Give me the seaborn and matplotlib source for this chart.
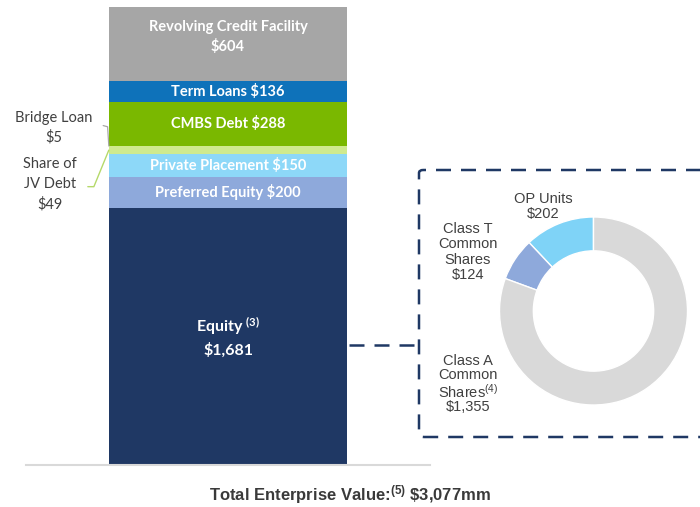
"""
Capitalization chart: stacked bar of the capital structure plus a donut
breaking the equity block into its share classes.
"""

import numpy as np
import pandas as pd
import matplotlib.pyplot as plt
from matplotlib.patches import FancyBboxPatch
from matplotlib.lines import Line2D
import seaborn as sns

# ── DATA ──────────────────────────────────────────────────────────────────────
SEGMENTS = ["Equity", "Preferred Equity", "Private Placement", "Share of JV Debt",
            "Bridge Loan", "CMBS Debt", "Term Loans", "Revolving Credit Facility"]
VALUES   = [1681, 200, 150, 49, 5, 288, 136, 604]

EQUITY_PARTS  = ["OP Units", "Class T Common Shares", "Class A Common Shares"]
EQUITY_VALUES = [202, 124, 1355]

TOTAL_EV = 3077

# ── STYLE ─────────────────────────────────────────────────────────────────────
NAVY  = "#1F3864"
TEXT  = "#404040"
SEG_COLORS = {
    "Equity"                   : NAVY,
    "Preferred Equity"         : "#8EA9DB",
    "Private Placement"        : "#8DD8F8",
    "Share of JV Debt"         : "#CFEA8E",
    "Bridge Loan"              : "#A6A6A6",
    "CMBS Debt"                : "#7AB800",
    "Term Loans"               : "#0E72BA",
    "Revolving Credit Facility": "#A6A6A6",
}
PIE_COLORS = ["#7FD3F7", "#8EA9DB", "#D9D9D9"]

sns.set_theme(style="white")
plt.rcParams.update({
    "font.family"      : ["Lato", "DejaVu Sans"],
    "mathtext.fontset" : "custom",
    "mathtext.default" : "regular",
    "mathtext.rm"      : "Lato",
    "mathtext.bf"      : "Lato:bold",
    "mathtext.it"      : "Lato:italic",
})

W, H = 700, 507
fig = plt.figure(figsize=(W / 100, H / 100), dpi=100, facecolor="white")


def px_box(left, top, right, bottom):
    """pixel box -> figure fraction [l, b, w, h]"""
    return [left / W, (H - bottom) / H, (right - left) / W, (bottom - top) / H]


# ── STACKED BAR ───────────────────────────────────────────────────────────────
ax = fig.add_axes(px_box(26, 7, 430, 465))

df = pd.DataFrame({"segment": SEGMENTS, "value": VALUES})
df["top"] = df["value"].cumsum()
df["mid"] = df["top"] - df["value"] / 2

# overplot cumulative bars, tallest first, to get the stack
for _, row in df.iloc[::-1].iterrows():
    sns.barplot(x=["cap"], y=[row["top"]], color=SEG_COLORS[row["segment"]],
                width=0.59, saturation=1, linewidth=0, ax=ax)

# the source chart squeezes the revolver block at the top
YMAX = 2990
ax.set_xlim(-0.5, 0.5)
ax.set_ylim(0, YMAX)
ax.set_xticks([]); ax.set_yticks([])
ax.set_xlabel(""); ax.set_ylabel("")
for s in ["top", "left", "right"]:
    ax.spines[s].set_visible(False)
ax.spines["bottom"].set_color("#D9D9D9")
ax.spines["bottom"].set_linewidth(1.5)
ax.patch.set_alpha(0)

mid = dict(zip(df["segment"], df["mid"]))
top = dict(zip(df["segment"], df["top"]))
lab = dict(color="white", fontweight="bold", ha="center", va="center")

ax.text(0, mid["Preferred Equity"], "Preferred Equity $200", fontsize=10.5, **lab)
ax.text(0, mid["Private Placement"], "Private Placement $150", fontsize=10.5, **lab)
ax.text(0, mid["CMBS Debt"], "CMBS Debt $288", fontsize=10.5, **lab)
ax.text(0, mid["Term Loans"], "Term Loans $136", fontsize=10.5, **lab)
rev_mid = (top["Term Loans"] + YMAX) / 2
ax.annotate("Revolving Credit Facility\n$604", xy=(0, rev_mid),
            xytext=(0, 5), textcoords="offset points",
            fontsize=10.5, linespacing=1.45, **lab)
ax.text(0, mid["Equity"], r"Equity $^{(3)}$" + "\n" + r"\$1,681",
        fontsize=11.5, linespacing=1.45, **lab)

# small slices labelled outside with leader lines
bar_left = -0.295
ax.text(-0.431, 2200, "Bridge Loan\n$5", fontsize=10.5, color=TEXT,
        ha="center", va="center", linespacing=1.45)
ax.plot([-0.309, -0.298, bar_left], [2216, 2208, mid["Bridge Loan"]],
        color="#A6A6A6", lw=0.9, clip_on=False)
ax.text(-0.441, 1833, "Share of\nJV Debt\n$49", fontsize=10.5, color=TEXT,
        ha="center", va="center", linespacing=1.5)
ax.plot([-0.347, -0.332, bar_left], [1817, 1817, mid["Share of JV Debt"]],
        color="#B5D96A", lw=1.0, clip_on=False)

# ── DASHED CALLOUT ────────────────────────────────────────────────────────────
dash = (0, (6, 4))
fig.add_artist(FancyBboxPatch((419 / W, (H - 437) / H), (730 - 419) / W, (437 - 170) / H,
                              boxstyle="round,pad=0,rounding_size=0.006",
                              transform=fig.transFigure, fill=False,
                              ec=NAVY, lw=1.8, ls=dash))
fig.add_artist(Line2D([349 / W, 419 / W], [(H - 345) / H] * 2,
                      transform=fig.transFigure, color=NAVY, lw=1.8, ls=dash))

# ── DONUT ─────────────────────────────────────────────────────────────────────
pax = fig.add_axes(px_box(499.5, 217, 687.5, 405))
pax.pie(EQUITY_VALUES, colors=PIE_COLORS, startangle=90, counterclock=True,
        radius=1, wedgeprops=dict(width=0.36, edgecolor="white", linewidth=1))
pax.set_xlim(-1, 1); pax.set_ylim(-1, 1)
pax.set_aspect("equal")
pax.axis("off")

pl = dict(fontsize=10.5, color=TEXT, ha="center", va="center",
          family=["Liberation Sans", "DejaVu Sans"], linespacing=1.12)
pax.text(-0.537, 1.11, f"OP Units\n${EQUITY_VALUES[0]}", **pl)
pax.text(-1.335, 0.628, f"Class T\nCommon\nShares\n${EQUITY_VALUES[1]}", **pl)
pax.text(-1.335, -0.78,
         "Class A\nCommon\n" + r"Shares$^{(4)}$" + "\n" + rf"\${EQUITY_VALUES[2]:,}",
         **{**pl, "linespacing": 1.0})

# ── FOOTER ────────────────────────────────────────────────────────────────────
fig.text(0.5, (H - 495) / H,
         r"Total Enterprise Value:$^{(5)}$ " + rf"\${TOTAL_EV:,}mm",
         ha="center", va="center", fontsize=12, fontweight="bold",
         color="#3A3A3A", family=["Liberation Sans", "DejaVu Sans"])

fig.savefig("out.png", dpi=100, facecolor="white")
